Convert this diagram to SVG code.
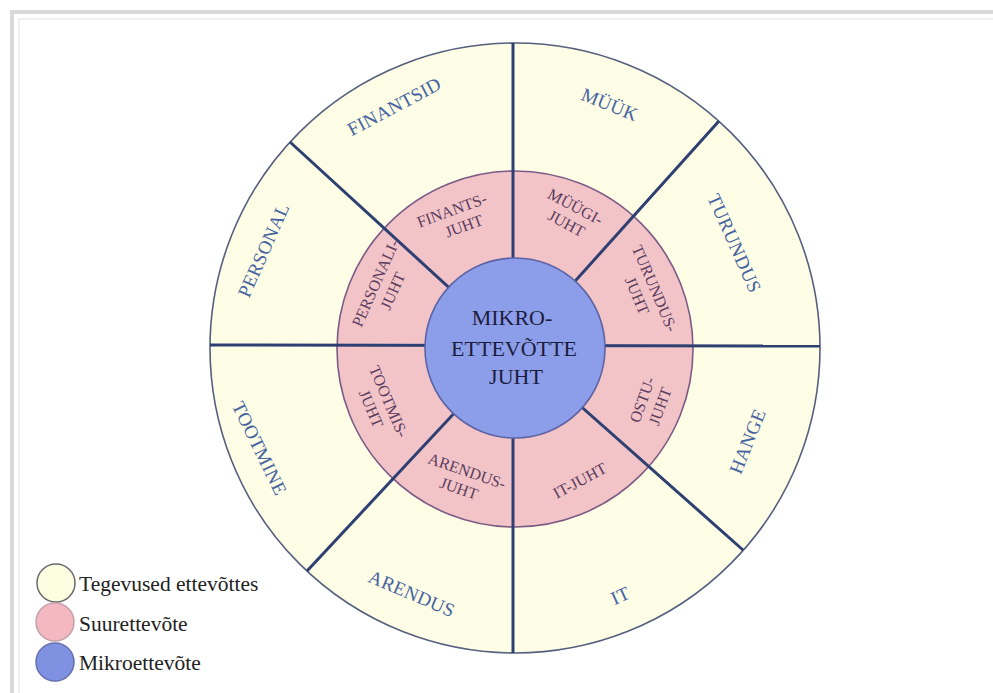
<svg xmlns="http://www.w3.org/2000/svg" width="993" height="693" viewBox="0 0 993 693">
<style>
.frame{fill:#d9d9d9}
.frame2{fill:#f0f0f0}
.outer{fill:#fefde6;stroke:#56607e;stroke-width:1.6}
.mid{fill:#f2c4c8;stroke:#7c5c86;stroke-width:1.6}
.core{fill:#8c9eea;stroke:#5c64a4;stroke-width:1.6}
.div{stroke:#2e3f72;stroke-width:3;stroke-linecap:butt}
.ol{font-family:"Liberation Serif","Times New Roman",serif;font-size:19px;fill:#4563a0;text-anchor:middle;letter-spacing:0.3px}
.il{font-family:"Liberation Serif","Times New Roman",serif;font-size:16px;fill:#5c3d5e;text-anchor:middle}
.cl{font-family:"Liberation Serif","Times New Roman",serif;font-size:22px;fill:#1c1c3c;text-anchor:middle}
.lg{font-family:"Liberation Serif","Times New Roman",serif;font-size:21.5px;fill:#222}
</style>
<rect width="993" height="693" fill="#ffffff"/>
<rect class="frame" x="10" y="10" width="983" height="4"/>
<rect class="frame" x="10" y="10" width="4" height="683"/>
<rect class="frame2" x="18" y="18" width="975" height="2"/>
<rect class="frame2" x="18" y="18" width="2" height="675"/>

<g id="ring-outer">
<circle class="outer" cx="515" cy="348" r="305"/>
</g>
<g id="ring-middle">
<circle class="mid" cx="515" cy="349" r="178"/>
</g>
<g id="dividers">
<line class="div" x1="513" y1="43" x2="513" y2="653"/>
<line class="div" x1="210" y1="345" x2="820" y2="346"/>
<line class="div" x1="515" y1="348" x2="290" y2="142"/>
<line class="div" x1="515" y1="348" x2="719" y2="121"/>
<line class="div" x1="515" y1="348" x2="743" y2="550"/>
<line class="div" x1="515" y1="348" x2="307" y2="571"/>
</g>
<g id="core">
<circle class="core" cx="515" cy="348" r="90"/>
<text class="cl" x="512" y="325">MIKRO-</text>
<text class="cl" x="514" y="356">ETTEVÕTTE</text>
<text class="cl" x="516" y="384">JUHT</text>
</g>

<g id="finantsid"><text class="ol" transform="translate(394,106) rotate(-28)" y="7">FINANTSID</text></g>
<g id="myyk"><text class="ol" transform="translate(610,104) rotate(22)" y="7">MÜÜK</text></g>
<g id="turundus"><text class="ol" transform="translate(735,243) rotate(66)" y="7">TURUNDUS</text></g>
<g id="hange"><text class="ol" transform="translate(747,441) rotate(-68)" y="7">HANGE</text></g>
<g id="it"><text class="ol" transform="translate(620,595) rotate(-24)" y="7">IT</text></g>
<g id="arendus"><text class="ol" transform="translate(412,593) rotate(23)" y="7">ARENDUS</text></g>
<g id="tootmine"><text class="ol" transform="translate(260,448) rotate(64)" y="7">TOOTMINE</text></g>
<g id="personal"><text class="ol" transform="translate(263,250) rotate(-66)" y="7">PERSONAL</text></g>

<g id="finantsjuht"><text class="il" transform="translate(455,219) rotate(-20)"><tspan x="0" y="-4">FINANTS-</tspan><tspan x="6" y="15">JUHT</tspan></text></g>
<g id="myygijuht"><text class="il" transform="translate(571,215) rotate(28)"><tspan x="0" y="-4">MÜÜGI-</tspan><tspan x="0" y="15">JUHT</tspan></text></g>
<g id="turundusjuht"><text class="il" transform="translate(646,292) rotate(67)"><tspan x="0" y="-4">TURUNDUS-</tspan><tspan x="0" y="15">JUHT</tspan></text></g>
<g id="ostujuht"><text class="il" transform="translate(651,403) rotate(-70)"><tspan x="0" y="-4">OSTU-</tspan><tspan x="0" y="15">JUHT</tspan></text></g>
<g id="itjuht"><text class="il" transform="translate(580,481) rotate(-28)" y="5">IT-JUHT</text></g>
<g id="arendusjuht"><text class="il" transform="translate(464,480) rotate(19)"><tspan x="0" y="-4">ARENDUS-</tspan><tspan x="-2" y="15">JUHT</tspan></text></g>
<g id="tootmisjuht"><text class="il" transform="translate(380,405) rotate(67)"><tspan x="0" y="-4">TOOTMIS-</tspan><tspan x="0" y="15">JUHT</tspan></text></g>
<g id="personalijuht"><text class="il" transform="translate(384,287) rotate(-66)"><tspan x="0" y="-4">PERSONALI-</tspan><tspan x="0" y="15">JUHT</tspan></text></g>

<g id="legend">
<circle cx="56" cy="583" r="19" fill="#fdfde2" stroke="#6a6a6a" stroke-width="1.5"/>
<circle cx="55" cy="622" r="19" fill="#f4b8c0" stroke="#c4a0aa" stroke-width="1.5"/>
<circle cx="55" cy="662" r="19" fill="#7f92e2" stroke="#6670ae" stroke-width="1.5"/>
<text class="lg" x="79" y="591">Tegevused ettevõttes</text>
<text class="lg" x="79" y="631">Suurettevõte</text>
<text class="lg" x="79" y="670">Mikroettevõte</text>
</g>
</svg>
